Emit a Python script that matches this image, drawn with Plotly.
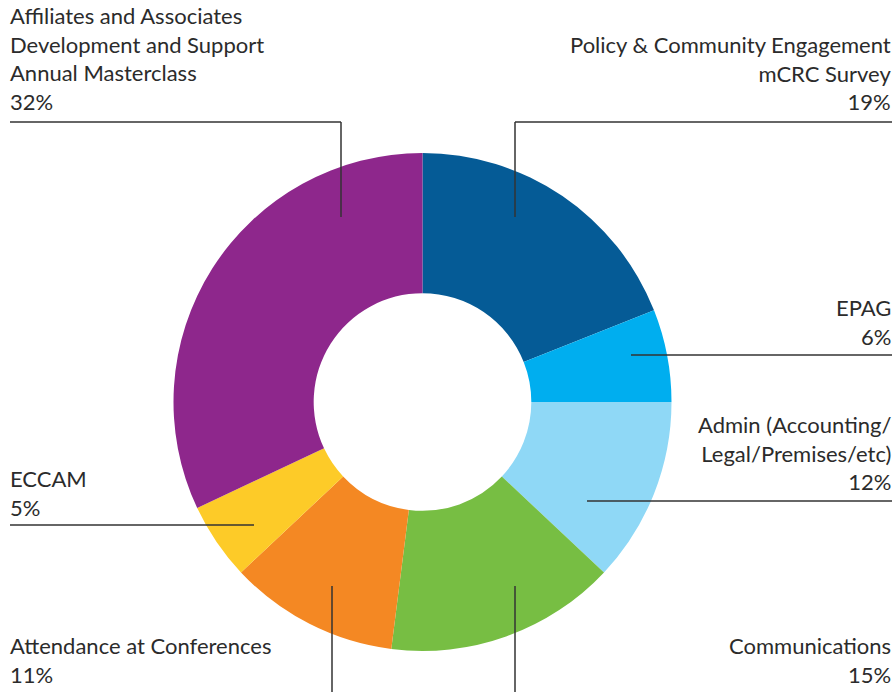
import plotly.graph_objects as go

# ---- data ----
categories = [
    "Policy &amp; Community Engagement<br>mCRC Survey",
    "EPAG",
    "Admin (Accounting/<br>Legal/Premises/etc)",
    "Communications",
    "Attendance at Conferences",
    "ECCAM",
    "Affiliates and Associates<br>Development and Support<br>Annual Masterclass",
]
values = [19, 6, 12, 15, 11, 5, 32]
colors = ["#055b96", "#00aeef", "#8fd8f6", "#77be43", "#f48823", "#fdcb28", "#8e278c"]

W, H = 896, 692
CX, CY, R = 422.5, 402, 249

def px(x):
    return x / W

def py(y):
    return 1 - y / H

fig = go.Figure(go.Pie(
    values=values,
    labels=[c.replace("<br>", " ").replace("&amp;", "&") for c in categories],
    marker=dict(colors=colors, line=dict(width=0)),
    hole=0.437,
    sort=False,
    direction="clockwise",
    rotation=0,
    textinfo="none",
    hoverinfo="label+percent",
    showlegend=False,
    domain=dict(x=[px(CX - R), px(CX + R)], y=[py(CY + R), py(CY - R)]),
))

FONT = dict(family="Lato, 'Open Sans', sans-serif", size=22, color="#2b2b2b")

# label placement (pixel positions of text block bottom, anchor side)
label_pos = {
    0: (891, 115, "right"),
    1: (891, 350, "right"),
    2: (891, 495, "right"),
    3: (891, 688, "right"),
    4: (10, 688, "left"),
    5: (10, 521, "left"),
    6: (10, 115, "left"),
}
annotations = []
for i, (cat, v) in enumerate(zip(categories, values)):
    x, y, side = label_pos[i]
    annotations.append(dict(
        x=px(x), y=py(y), xref="paper", yref="paper",
        xanchor=side, yanchor="bottom", align=side,
        text=f"{cat}<br>{v}%", showarrow=False, font=FONT,
        borderpad=0, borderwidth=0,
    ))

LINE = dict(color="#333333", width=1.5)
leader_lines = [
    (10, 122, 341, 122), (341, 122, 341, 217),      # Affiliates
    (515, 122, 892, 122), (515, 122, 515, 217),     # Policy
    (631, 355, 892, 355),                           # EPAG
    (587, 501, 892, 501),                           # Admin
    (515, 586, 515, 692),                           # Communications
    (332, 586, 332, 692),                           # Attendance
    (10, 525, 254, 525),                            # ECCAM
]
shapes = [dict(type="line", xref="paper", yref="paper",
               x0=px(a), y0=py(b), x1=px(c), y1=py(d), line=LINE, layer="above")
          for a, b, c, d in leader_lines]

fig.update_layout(
    width=W, height=H,
    margin=dict(l=0, r=0, t=0, b=0),
    paper_bgcolor="white", plot_bgcolor="white",
    annotations=annotations, shapes=shapes,
)

fig.write_html(
    "out.html",
    config={"displayModeBar": False},
    post_script="document.body.style.margin='0';document.body.style.overflow='hidden';",
)
